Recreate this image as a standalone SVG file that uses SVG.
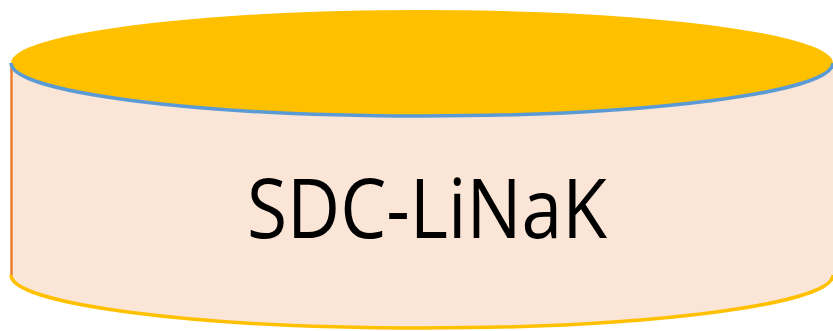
<svg xmlns="http://www.w3.org/2000/svg" width="833" height="331" viewBox="0 0 833 331">
  <style>
    .body { fill: #FBE5D6; stroke: none; }
    .side { fill: none; stroke: #ED7D31; stroke-width: 2.5; }
    .base { fill: none; stroke: #FFC000; stroke-width: 3.5; }
    .lid { fill: #FFC000; stroke: none; }
    .rim { fill: none; stroke: #5B9BD5; stroke-width: 3.5; }
    .label { font-family: "Open Sans", "Noto Sans", sans-serif; font-size: 82px; fill: #000000; }
  </style>
  <g id="database">
    <path class="body" d="M11,63 L11,275 A411,53 0 0 0 833,275 L833,63 Z"/>
    <path class="side" d="M11.5,63 L11.5,275"/>
    <path class="base" d="M11,275 A411,53 0 0 0 833,275"/>
    <ellipse class="lid" cx="422" cy="63" rx="411" ry="53"/>
    <path class="rim" d="M11,63 A411,53 0 0 0 833,63"/>
    <text class="label" x="427" y="238" text-anchor="middle" textLength="360" lengthAdjust="spacingAndGlyphs">SDC-LiNaK</text>
  </g>
</svg>
